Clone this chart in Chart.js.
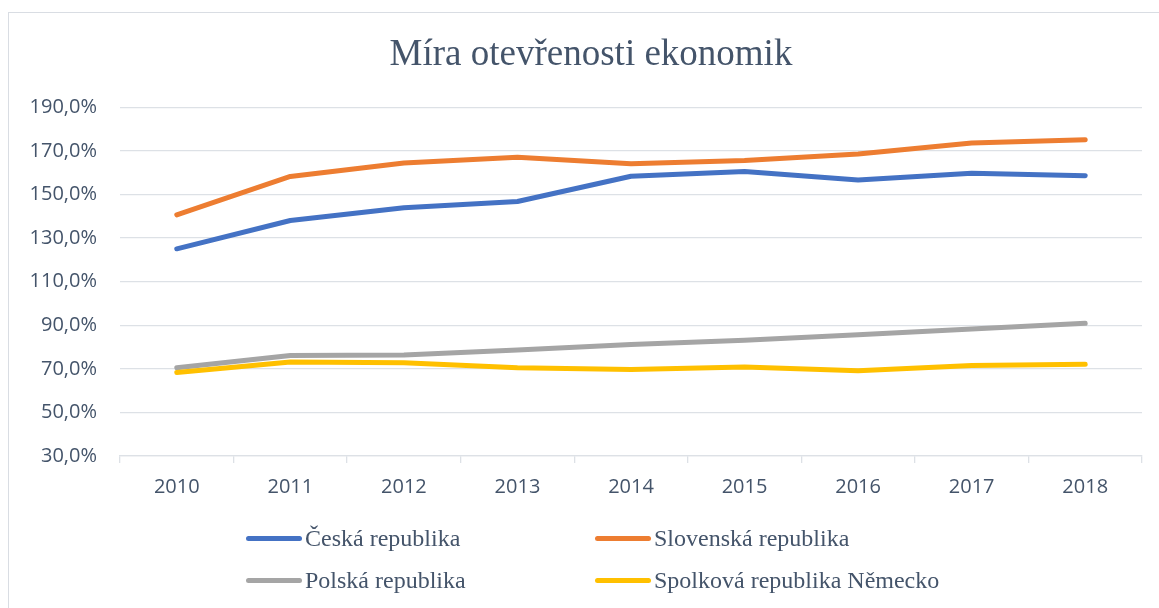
<!DOCTYPE html>
<html>
<head>
<meta charset="utf-8">
<script src="https://cdn.jsdelivr.net/npm/chart.js@4.4.1/dist/chart.umd.min.js"></script>
<style>
  html, body { margin: 0; padding: 0; background: #fff; }
  #wrap { position: relative; width: 1159px; height: 608px; overflow: hidden; }
  #frame { position: absolute; left: 8px; top: 12px; width: 1200px; height: 700px; border: 1px solid #d9dde3; }
  #chart { position: absolute; left: 0; top: 0; }
  #legend { position: absolute; left: 246px; top: 523px; display: grid; grid-template-columns: 349px auto; row-gap: 12px;
    font-family: "Liberation Serif", "DejaVu Serif", serif; font-size: 24px; color: #44546a; }
  #legend .item { display: flex; align-items: center; height: 30px; white-space: nowrap; }
  #legend .swatch { display: inline-block; width: 56px; height: 5px; border-radius: 3px; margin-right: 3px; }
</style>
</head>
<body>
<div id="wrap">
  <div id="frame"></div>
  <canvas id="chart" width="1159" height="608"></canvas>
  <div id="legend"></div>
</div>
<script>
// data
const years = ['2010', '2011', '2012', '2013', '2014', '2015', '2016', '2017', '2018'];
const seriesNames = ['Česká republika', 'Slovenská republika', 'Polská republika', 'Spolková republika Německo'];
const cesko = [125.1, 138.1, 143.9, 146.8, 158.4, 160.6, 156.7, 159.8, 158.6];
const slovensko = [140.7, 158.3, 164.5, 167.1, 164.1, 165.6, 168.6, 173.7, 175.2];
const polsko = [70.5, 76.1, 76.4, 78.6, 81.2, 83.1, 85.7, 88.3, 90.9];
const nemecko = [68.3, 73.1, 72.8, 70.5, 69.7, 70.9, 69.1, 71.5, 72.1];
const yMin = 30, yMax = 190, yStep = 20;

const colors = ['#4472c4', '#ed7d31', '#a5a5a5', '#ffc000'];
const values = [cesko, slovensko, polsko, nemecko];
const textColor = '#44546a';
const gridColor = '#dde1e6';

const datasets = values.map((v, i) => ({
  label: seriesNames[i],
  data: v,
  borderColor: colors[i],
  backgroundColor: colors[i],
  borderWidth: 5,
  borderCapStyle: 'round',
  borderJoinStyle: 'round',
  pointRadius: 0,
  pointHoverRadius: 0,
  tension: 0,
  order: 4 - i   // later series drawn on top, like Excel
}));

// Excel centres the title on the whole chart frame, not the plot
const shiftTitle = {
  id: 'shiftTitle',
  afterLayout(chart) {
    const t = chart.titleBlock;
    if (t) { t.left = 40; t.right = chart.chartArea.right; }
  }
};

const chart = new Chart(document.getElementById('chart').getContext('2d'), {
  type: 'line',
  data: { labels: years, datasets: datasets },
  plugins: [shiftTitle],
  options: {
    responsive: false,
    animation: false,
    layout: { padding: { left: 0, right: 17, top: 0, bottom: 107 } },
    plugins: {
      legend: { display: false },
      tooltip: { enabled: false },
      title: {
        display: true,
        text: 'Míra otevřenosti ekonomik',
        color: textColor,
        font: { family: '"Liberation Serif", serif', size: 37, weight: 'normal', lineHeight: 1.2 },
        padding: { top: 33, bottom: 30 }
      }
    },
    scales: {
      x: {
        offset: true,
        grid: { offset: true, drawOnChartArea: false, drawTicks: true, tickLength: 7, color: gridColor, lineWidth: 1.3 },
        border: { display: true, color: gridColor, width: 1.3 },
        ticks: { color: textColor, padding: 12, font: { family: '"Open Sans", sans-serif', size: 20 } },
        afterFit: s => { s.height = 45; }
      },
      y: {
        min: yMin,
        max: yMax,
        grid: { color: gridColor, lineWidth: 1.3, drawTicks: false },
        border: { display: false },
        ticks: {
          stepSize: yStep,
          color: textColor,
          padding: 23,
          font: { family: '"Open Sans", sans-serif', size: 20 },
          callback: v => v.toFixed(1).replace('.', ',') + '%'
        },
        afterFit: s => { s.width = 120; }
      }
    }
  }
});

// two-column legend like the original
const legendEl = document.getElementById('legend');
chart.data.datasets.forEach(ds => {
  const item = document.createElement('div');
  item.className = 'item';
  const sw = document.createElement('span');
  sw.className = 'swatch';
  sw.style.background = ds.borderColor;
  item.appendChild(sw);
  item.appendChild(document.createTextNode(ds.label));
  legendEl.appendChild(item);
});
</script>
</body>
</html>
